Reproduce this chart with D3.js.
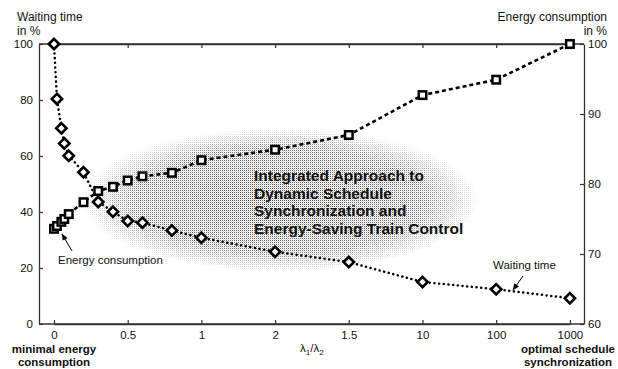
<!DOCTYPE html>
<html lang="en">
  <head>
    <meta charset="UTF-8" />
    <title>Waiting time vs energy consumption</title>
    <style>
      body { margin: 0; background: #fff; }
      svg text { font-family: Arial, "Liberation Sans", sans-serif; fill: #111; }
    </style>
  </head>
  <body>
    <div id="chart">
      <svg width="618" height="369"></svg>
    </div>
    <script src="https://d3js.org/d3.v7.min.js"></script>
    <script>
      // lambda1/lambda2 values of the computed points
      var lambdaVals = [0, 0.02, 0.05, 0.07, 0.1, 0.2, 0.3, 0.4, 0.5, 0.6, 0.8, 1, 2, 5, 10, 100, 1000];
      // waiting time in % (left axis)
      var waitingTime = [100, 80.4, 69.9, 64.5, 60.1, 54.2, 43.6, 40.1, 36.8, 36.2, 33.4, 30.8, 25.8, 22.1, 15.0, 12.4, 9.2];
      // energy consumption in % (right axis)
      var energy = [73.6, 74.0, 74.6, 75.0, 75.7, 77.4, 79.0, 79.6, 80.5, 81.1, 81.6, 83.4, 84.9, 87.0, 92.7, 94.9, 100];

      var xTickVals = [0, 0.5, 1, 2, 5, 10, 100, 1000];
      var xTickLabels = ["0", "0.5", "1", "2", "1.5", "10", "100", "1000"];
      var leftTicks = [0, 20, 40, 60, 80, 100];
      var rightTicks = [60, 70, 80, 90, 100];
      var titleLines = ["Integrated Approach to", "Dynamic Schedule", "Synchronization and", "Energy-Saving Train Control"];

      var svg = d3.select("#chart>svg");
      var plot = { left: 39, right: 584, top: 44, bottom: 324 };
      var firstTick = 54, step = 73.7;

      // piecewise axis: equal spacing between the labelled ticks
      var x = d3.scaleLinear()
        .domain(xTickVals)
        .range(xTickVals.map(function (d, i) { return firstTick + i * step; }));
      var yL = d3.scaleLinear().domain([0, 100]).range([plot.bottom, plot.top]);
      var yR = d3.scaleLinear().domain([60, 100]).range([plot.bottom, plot.top]);

      // stippled background blob
      var defs = svg.append("defs");
      var pat = defs.append("pattern")
        .attr("id", "stip").attr("width", 2).attr("height", 2)
        .attr("patternUnits", "userSpaceOnUse");
      pat.append("rect").attr("width", 1).attr("height", 1).attr("fill", "#4a4a4a");
      pat.append("rect").attr("x", 1).attr("y", 1).attr("width", 1).attr("height", 1).attr("fill", "#d8d8d8");
      var grad = defs.append("radialGradient").attr("id", "fade");
      grad.append("stop").attr("offset", "0%").attr("stop-color", "#fff").attr("stop-opacity", 1);
      grad.append("stop").attr("offset", "72%").attr("stop-color", "#fff").attr("stop-opacity", 0.8);
      grad.append("stop").attr("offset", "100%").attr("stop-color", "#fff").attr("stop-opacity", 0);
      var mask = defs.append("mask").attr("id", "blobMask");
      mask.append("ellipse")
        .attr("cx", 280).attr("cy", 200).attr("rx", 200).attr("ry", 72)
        .attr("fill", "url(#fade)");
      svg.append("rect")
        .attr("x", 75).attr("y", 120).attr("width", 415).attr("height", 155)
        .attr("fill", "url(#stip)")
        .attr("mask", "url(#blobMask)");

      // frame lines
      var axisColor = "#333";
      var g = svg.append("g");

      g.append("g")
        .attr("transform", "translate(" + plot.left + ",0)")
        .call(d3.axisLeft(yL).tickValues(leftTicks).tickSize(-4).tickSizeOuter(0).tickPadding(6))
        .call(styleAxis);

      g.append("g")
        .attr("transform", "translate(" + plot.right + ",0)")
        .call(d3.axisRight(yR).tickValues(rightTicks).tickSize(-4).tickSizeOuter(0).tickPadding(4))
        .call(styleAxis);

      g.append("g")
        .attr("transform", "translate(0," + plot.bottom + ")")
        .call(d3.axisBottom(x).tickValues(xTickVals).tickSize(-4).tickSizeOuter(0).tickPadding(7)
          .tickFormat(function (d, i) { return xTickLabels[i]; }))
        .call(styleAxis);

      g.append("g")
        .attr("transform", "translate(0," + plot.top + ")")
        .call(d3.axisTop(x).tickValues(xTickVals).tickSize(-4).tickSizeOuter(0).tickFormat(""))
        .call(styleAxis);

      // full-width top and bottom lines
      g.append("line").attr("x1", plot.left).attr("x2", plot.right).attr("y1", plot.top).attr("y2", plot.top)
        .attr("stroke", axisColor).attr("stroke-width", 1.3);
      g.append("line").attr("x1", plot.left).attr("x2", plot.right).attr("y1", plot.bottom).attr("y2", plot.bottom)
        .attr("stroke", axisColor).attr("stroke-width", 1.3);

      function styleAxis(sel) {
        sel.select(".domain").attr("stroke", axisColor).attr("stroke-width", 1.3);
        sel.selectAll(".tick line").attr("stroke", axisColor).attr("stroke-width", 1.2);
        sel.selectAll(".tick text").attr("font-size", 11.5).attr("fill", "#111")
          .style("font-family", "Arial, 'Liberation Sans', sans-serif");
      }

      // series lines
      var waitPts = lambdaVals.map(function (d, i) { return [x(d), yL(waitingTime[i])]; });
      var energyPts = lambdaVals.map(function (d, i) { return [x(d), yR(energy[i])]; });
      var line = d3.line();

      svg.append("path")
        .attr("d", line(energyPts))
        .attr("fill", "none").attr("stroke", "#000")
        .attr("stroke-width", 2.6).attr("stroke-dasharray", "4,3");

      svg.append("path")
        .attr("d", line(waitPts))
        .attr("fill", "none").attr("stroke", "#000")
        .attr("stroke-width", 2.5).attr("stroke-linecap", "round")
        .attr("stroke-dasharray", "0.1,4.6");

      // markers
      var sq = 7.5;
      svg.append("g").selectAll("rect").data(energyPts).join("rect")
        .attr("x", function (d) { return d[0] - sq / 2; })
        .attr("y", function (d) { return d[1] - sq / 2; })
        .attr("width", sq).attr("height", sq)
        .attr("fill", "#fff").attr("stroke", "#000").attr("stroke-width", 2.5);

      var diamond = d3.symbol().type(d3.symbolDiamond2).size(68);
      svg.append("g").selectAll("path").data(waitPts).join("path")
        .attr("transform", function (d) { return "translate(" + d[0] + "," + d[1] + ")"; })
        .attr("d", diamond)
        .attr("fill", "#fff").attr("stroke", "#000").attr("stroke-width", 2.6);

      // axis titles
      svg.append("text").attr("x", 17).attr("y", 21).attr("font-size", 12).text("Waiting time");
      svg.append("text").attr("x", 17).attr("y", 34.5).attr("font-size", 12).text("in %");
      svg.append("text").attr("x", 607).attr("y", 21).attr("font-size", 12).attr("text-anchor", "end").text("Energy consumption");
      svg.append("text").attr("x", 607).attr("y", 34.5).attr("font-size", 12).attr("text-anchor", "end").text("in %");

      var xl = svg.append("text").attr("x", 300).attr("y", 352).attr("font-size", 11.5);
      xl.append("tspan").text("\u03bb");
      xl.append("tspan").attr("dy", 3).attr("font-size", 8).text("1");
      xl.append("tspan").attr("dy", -3).text("/\u03bb");
      xl.append("tspan").attr("dy", 3).attr("font-size", 8).text("2");

      var bottomNotes = [
        { x: 54, lines: ["minimal energy", "consumption"] },
        { x: 568, lines: ["optimal schedule", "synchronization"] }
      ];
      bottomNotes.forEach(function (n) {
        n.lines.forEach(function (t, i) {
          svg.append("text").attr("x", n.x).attr("y", 353 + i * 13)
            .attr("text-anchor", "middle").attr("font-size", 11.5)
            .attr("font-weight", "bold").text(t);
        });
      });

      // centre title
      svg.append("g").selectAll("text").data(titleLines).join("text")
        .attr("x", 254).attr("y", function (d, i) { return 181 + i * 17.7; })
        .attr("font-size", 15.5).attr("font-weight", "bold").text(function (d) { return d; });

      // annotations with arrows
      defs.append("marker").attr("id", "arr").attr("viewBox", "0 0 10 10")
        .attr("refX", 9).attr("refY", 5).attr("markerWidth", 7).attr("markerHeight", 7)
        .attr("orient", "auto")
        .append("path").attr("d", "M0,1 L10,5 L0,9 Z").attr("fill", "#000");

      svg.append("text").attr("x", 58).attr("y", 264).attr("font-size", 11.5).text("Energy consumption");
      svg.append("line").attr("x1", 72).attr("y1", 251).attr("x2", 62).attr("y2", 234)
        .attr("stroke", "#000").attr("stroke-width", 1).attr("marker-end", "url(#arr)");

      svg.append("text").attr("x", 493).attr("y", 269).attr("font-size", 11.5).text("Waiting time");
      svg.append("line").attr("x1", 523).attr("y1", 276).attr("x2", 513).attr("y2", 290)
        .attr("stroke", "#000").attr("stroke-width", 1).attr("marker-end", "url(#arr)");
    </script>
  </body>
</html>
